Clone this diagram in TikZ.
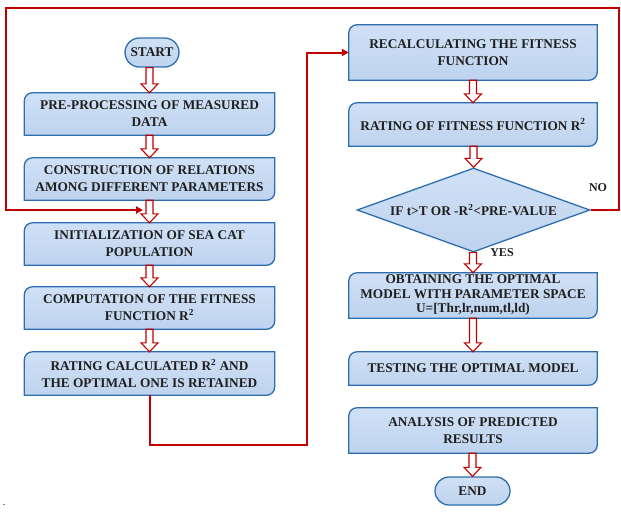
\documentclass[tikz,border=0pt]{standalone}
\usepackage{fontspec}
\setmainfont{Liberation Serif}
\usetikzlibrary{calc,shapes.geometric,shapes.misc,backgrounds,arrows.meta}
\definecolor{bfill}{RGB}{190,211,238}
\definecolor{bfilltop}{RGB}{208,225,246}
\definecolor{bline}{RGB}{46,110,175}
\definecolor{lred}{RGB}{192,0,0}
\tikzset{
  txt/.style={font=\bfseries\fontsize{13.3}{17}\selectfont, align=center, text=black!88},
  box/.style={txt, minimum width=250pt, inner sep=0pt},
  rbox/.style={txt, minimum width=248pt, inner sep=0pt},
  boxline/.style={draw=bline, line width=1.3pt, top color=bfilltop, bottom color=bfill},
  pill/.style={txt, shape=rounded rectangle, draw=bline, line width=1.3pt, top color=bfilltop, bottom color=bfill, inner sep=0pt},
  harrow/.style={draw=lred, line width=1.1pt, fill=white},
  redline/.style={draw=lred, line width=2pt},
  lbl/.style={font=\bfseries\fontsize{12}{13}\selectfont, text=black!88},
}
\newcommand\boxbg[1]{\begin{pgfonlayer}{background}
  \path[boxline] ([yshift=-8pt]#1.north west) arc[start angle=180,end angle=90,radius=8pt]
    -- (#1.north east) -- ([yshift=8pt]#1.south east) arc[start angle=0,end angle=-90,radius=8pt]
    -- (#1.south west) -- cycle;
  \end{pgfonlayer}}
\newcommand\harr[2]{\draw[harrow] let \p1=(#1.south), \p2=(#2.north) in
  (\x2-3.5pt,\y1) -- (\x2-3.5pt,\y2+9pt) -- (\x2-8.5pt,\y2+9pt) -- (\x2,\y2)
  -- (\x2+8.5pt,\y2+9pt) -- (\x2+3.5pt,\y2+9pt) -- (\x2+3.5pt,\y1) -- cycle;}
\begin{document}
\begin{tikzpicture}[x=1pt,y=-1pt]
\useasboundingbox (0,0) rectangle (621,514);
% left column
\node[pill, minimum width=54pt, minimum height=29pt] (start) at (152,52.5) {START};
\node[box, minimum height=42pt] (pre) at (149.5,114) {PRE-PROCESSING OF MEASURED\\DATA}; \boxbg{pre}
\node[box, minimum height=42pt] (con) at (149.5,179) {CONSTRUCTION OF RELATIONS\\AMONG DIFFERENT PARAMETERS}; \boxbg{con}
\node[box, minimum height=42pt] (ini) at (149.5,244) {INITIALIZATION OF SEA CAT\\POPULATION}; \boxbg{ini}
\node[box, minimum height=42pt] (com) at (149.5,308) {COMPUTATION OF THE FITNESS\\FUNCTION R\textsuperscript{2}}; \boxbg{com}
\node[box, minimum height=43pt] (rat) at (149.5,373.5) {RATING CALCULATED R\textsuperscript{2} AND\\THE OPTIMAL ONE IS RETAINED}; \boxbg{rat}
% right column
\node[rbox, minimum height=55pt] (rec) at (473,52.5) {RECALCULATING THE FITNESS\\FUNCTION}; \boxbg{rec}
\node[rbox, minimum height=43pt] (rr2) at (473,124.5) {RATING OF FITNESS FUNCTION R\textsuperscript{2}}; \boxbg{rr2}
\node[txt, shape=diamond, aspect=2.8, draw=bline, line width=1.3pt, top color=bfilltop, bottom color=bfill, inner sep=0pt, minimum width=233pt, minimum height=84pt] (dia) at (473.5,210) {IF t>T OR -R\textsuperscript{2}<PRE-VALUE};
\node[rbox, minimum height=45pt, font=\bfseries\fontsize{13.3}{14.5}\selectfont] (obt) at (473,295.5) {OBTAINING THE OPTIMAL\\MODEL WITH PARAMETER SPACE\\U=[Thr,lr,num,tl,ld)}; \boxbg{obt}
\node[rbox, minimum height=33pt] (tst) at (473,368.5) {TESTING THE OPTIMAL MODEL}; \boxbg{tst}
\node[rbox, minimum height=45pt] (ana) at (473,430.5) {ANALYSIS OF PREDICTED\\RESULTS}; \boxbg{ana}
\node[pill, minimum width=75pt, minimum height=28pt] (end) at (472.5,491) {END};
% labels
\node[lbl] (no) at (598,188) {NO};
\node[lbl] (yes) at (502,253) {YES};
\node[font=\fontsize{10}{10}\selectfont] (dot) at (4,505) {.};
% hollow arrows
\harr{start}{pre}
\harr{pre}{con}
\harr{con}{ini}
\harr{ini}{com}
\harr{com}{rat}
\harr{rec}{rr2}
\harr{rr2}{dia}
\harr{dia}{obt}
\harr{obt}{tst}
\harr{ana}{end}
% red loops
\coordinate (jn) at (143,210);
\coordinate (c1) at (307,445);
\draw[redline,-{Triangle[length=7pt,width=7pt]}] (dia.east) -- (619,210) -- (619,8) -- (6,8) -- (6,210) -- (jn);
\draw[redline,-{Triangle[length=7pt,width=7pt]}] (rat.south) |- (c1) |- (rec.west);
\end{tikzpicture}
\end{document}
